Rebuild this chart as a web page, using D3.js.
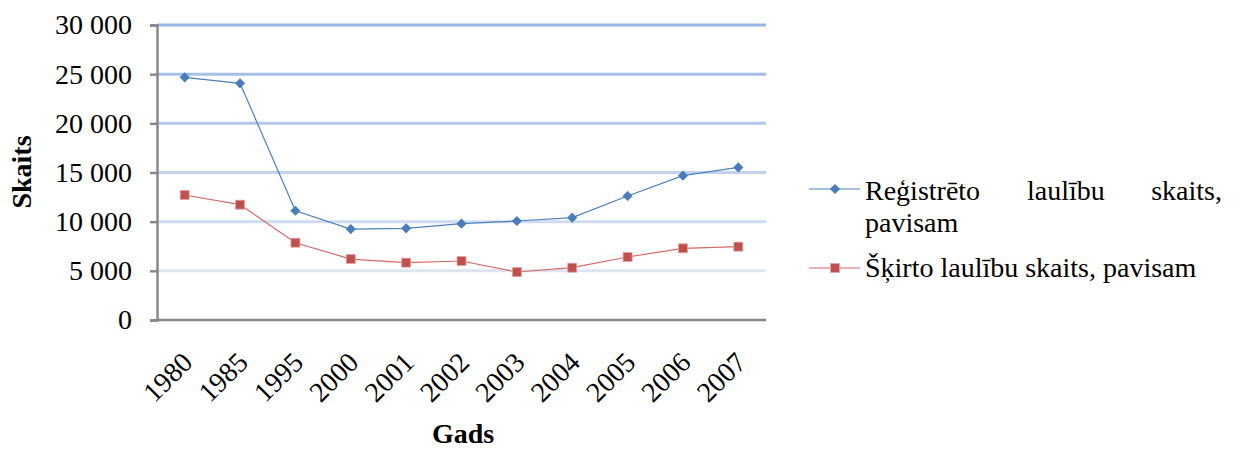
<!DOCTYPE html>
<html>
<head>
<meta charset="utf-8">
<script src="https://cdn.jsdelivr.net/npm/d3@7"></script>
<style>
  body { margin: 0; background: #fff; }
</style>
</head>
<body>
<script>
var years = ["1980", "1985", "1995", "2000", "2001", "2002", "2003", "2004", "2005", "2006", "2007"];
var registered = [24680, 24070, 11110, 9250, 9320, 9800, 10070, 10410, 12610, 14680, 15520];
var divorced = [12710, 11730, 7860, 6200, 5830, 6000, 4880, 5320, 6410, 7290, 7460];
var yTicks = [0, 5000, 10000, 15000, 20000, 25000, 30000];
var seriesNames = ["Reģistrēto laulību skaits, pavisam", "Šķirto laulību skaits, pavisam"];

var width = 1239, height = 455;
var plot = { left: 157, right: 766, top: 25, bottom: 320 };
var font = "Liberation Serif";
var fs = 28;

var svg = d3.select("body").append("svg")
    .attr("width", width)
    .attr("height", height);

svg.append("rect").attr("width", width).attr("height", height).attr("fill", "#fff");

var x = d3.scalePoint()
    .domain(years)
    .range([plot.left, plot.right])
    .padding(0.5);

var y = d3.scaleLinear()
    .domain([0, 30000])
    .range([plot.bottom, plot.top]);

var fmt = d3.formatLocale({ decimal: ",", thousands: " ", grouping: [3], currency: ["", ""] }).format(",d");

// gridlines get lighter toward the bottom, as in the original
var gridColor = d3.scaleLinear().domain([5000, 30000]).range(["#dde5f3", "#98b5e5"]);

svg.append("g")
    .selectAll("line")
    .data(yTicks.filter(function (d) { return d > 0; }))
    .enter().append("line")
    .attr("x1", plot.left)
    .attr("x2", plot.right)
    .attr("y1", function (d) { return y(d); })
    .attr("y2", function (d) { return y(d); })
    .attr("stroke", function (d) { return gridColor(d); })
    .attr("stroke-width", 3);

// y axis
var yAxis = svg.append("g")
    .attr("transform", "translate(" + plot.left + ",0)")
    .attr("font-family", font)
    .call(d3.axisLeft(y).tickValues(yTicks).tickSize(7).tickPadding(18).tickFormat(fmt));
yAxis.attr("font-family", font).attr("font-size", fs);
yAxis.select(".domain").attr("stroke", "#868686").attr("stroke-width", 2.4);
yAxis.selectAll(".tick line").attr("stroke", "#868686").attr("stroke-width", 2.4);
yAxis.selectAll(".tick text")
    .attr("font-family", font)
    .attr("font-size", fs)
    .attr("fill", "#000");

// x axis
var xAxis = svg.append("g")
    .attr("transform", "translate(0," + plot.bottom + ")")
    .call(d3.axisBottom(x).tickSize(0).tickPadding(0));
xAxis.attr("font-family", font).attr("font-size", fs);
xAxis.select(".domain").attr("stroke", "#868686").attr("stroke-width", 2.4)
    .attr("d", "M" + plot.left + ",0H" + plot.right);
xAxis.selectAll(".tick text")
    .attr("font-family", font)
    .attr("font-size", fs)
    .attr("fill", "#000")
    .attr("text-anchor", "end")
    .attr("dy", null)
    .attr("y", 0)
    .attr("transform", "translate(9,44) rotate(-45)");

// axis titles
svg.append("text")
    .attr("transform", "translate(31,172) rotate(-90)")
    .attr("text-anchor", "middle")
    .attr("font-family", font)
    .attr("font-size", fs)
    .attr("font-weight", "bold")
    .text("Skaits");

svg.append("text")
    .attr("x", 463)
    .attr("y", 443)
    .attr("text-anchor", "middle")
    .attr("font-family", font)
    .attr("font-size", fs)
    .attr("font-weight", "bold")
    .text("Gads");

// lines
var line = d3.line()
    .x(function (d, i) { return x(years[i]); })
    .y(function (d) { return y(d); });

svg.append("path")
    .datum(registered)
    .attr("fill", "none")
    .attr("stroke", "#4f81bd")
    .attr("stroke-width", 1.2)
    .attr("d", line);

svg.append("path")
    .datum(divorced)
    .attr("fill", "none")
    .attr("stroke", "#d46b68")
    .attr("stroke-width", 1.2)
    .attr("d", line);

var diamond = d3.symbol().type(d3.symbolSquare).size(52);

svg.append("g")
    .selectAll("path")
    .data(registered)
    .enter().append("path")
    .attr("d", diamond)
    .attr("transform", function (d, i) { return "translate(" + x(years[i]) + "," + y(d) + ") rotate(45)"; })
    .attr("fill", "#4a7ebb");

svg.append("g")
    .selectAll("rect")
    .data(divorced)
    .enter().append("rect")
    .attr("x", function (d, i) { return x(years[i]) - 4.5; })
    .attr("y", function (d) { return y(d) - 4.5; })
    .attr("width", 9)
    .attr("height", 9)
    .attr("fill", "#c0504d")
    .attr("stroke", "#e3a6a4")
    .attr("stroke-width", 0.8);

// legend
var leg = svg.append("g").attr("font-family", font).attr("font-size", fs);
leg.append("line").attr("x1", 809).attr("x2", 860).attr("y1", 189).attr("y2", 189)
    .attr("stroke", "#4f81bd").attr("stroke-width", 1.2);
leg.append("path").attr("d", diamond)
    .attr("transform", "translate(835,189) rotate(45)").attr("fill", "#4a7ebb");

var words = seriesNames[0].split(" ");
leg.append("text").attr("x", 865).attr("y", 200).text(words[0]);
leg.append("text").attr("x", 1027).attr("y", 200).text(words[1]);
leg.append("text").attr("x", 1222).attr("y", 200).attr("text-anchor", "end").text(words[2]);
leg.append("text").attr("x", 865).attr("y", 232).text(words[3]);

leg.append("line").attr("x1", 809).attr("x2", 860).attr("y1", 268).attr("y2", 268)
    .attr("stroke", "#d46b68").attr("stroke-width", 1.2);
leg.append("rect").attr("x", 830.5).attr("y", 263.5).attr("width", 9).attr("height", 9)
    .attr("fill", "#c0504d").attr("stroke", "#e3a6a4").attr("stroke-width", 0.8);
leg.append("text").attr("x", 865).attr("y", 277).text(seriesNames[1]);
</script>
</body>
</html>
